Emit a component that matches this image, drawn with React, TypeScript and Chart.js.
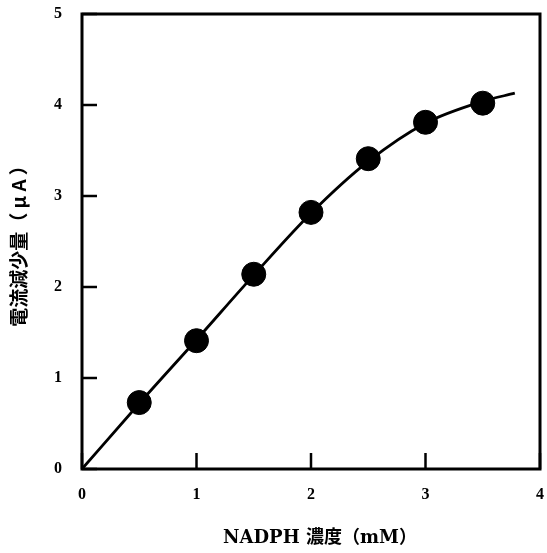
import React, { useEffect, useRef } from "react";
import { Chart, registerables } from "chart.js";

Chart.register(...registerables);

const pointX = [0.5, 1.0, 1.5, 2.0, 2.5, 3.0, 3.5];
const pointY = [0.73, 1.41, 2.14, 2.82, 3.41, 3.81, 4.02];
const curveX = [0, 0.5, 1.0, 1.5, 2.0, 2.5, 3.0, 3.5, 3.78];
const curveY = [0, 0.72, 1.42, 2.13, 2.81, 3.38, 3.80, 4.04, 4.13];
const xTicks = [0, 1, 2, 3, 4];
const yTicks = [0, 1, 2, 3, 4, 5];
const xTitle = "\u2002\u2002NADPH 濃度（mM）";
const yTitle = "電流減少量（ μ A ）";

const TICK_FONT = "'Liberation Serif', serif";
const TITLE_FONT = "'DejaVu Serif', 'Noto Sans CJK JP', serif";
const CJK_FONT = "'Noto Sans CJK JP', 'DejaVu Serif', serif";

const frame = {
  id: "frame",
  afterDatasetsDraw(chart: any) {
    const { ctx, chartArea, scales } = chart;
    const { left, right, top, bottom } = chartArea;
    ctx.save();
    ctx.strokeStyle = "#000";
    ctx.lineWidth = 3;
    ctx.strokeRect(left, top, right - left, bottom - top);
    ctx.lineWidth = 2.5;
    xTicks.forEach((v) => {
      const px = scales.x.getPixelForValue(v);
      ctx.beginPath();
      ctx.moveTo(px, bottom);
      ctx.lineTo(px, bottom - 16);
      ctx.stroke();
    });
    yTicks.forEach((v) => {
      const py = scales.y.getPixelForValue(v);
      ctx.beginPath();
      ctx.moveTo(left, py);
      ctx.lineTo(left + 15, py);
      ctx.stroke();
    });
    ctx.restore();
  },
};

export default function App() {
  const ref = useRef<HTMLCanvasElement>(null);
  useEffect(() => {
    document.body.style.margin = "0";
    const chart = new Chart(ref.current as HTMLCanvasElement, {
      type: "scatter",
      data: {
        datasets: [
          {
            data: curveX.map((x, i) => ({ x, y: curveY[i] })),
            showLine: true,
            borderColor: "#000",
            borderWidth: 2.8,
            pointRadius: 0,
            cubicInterpolationMode: "monotone",
            fill: false,
          } as any,
          {
            data: pointX.map((x, i) => ({ x, y: pointY[i] })),
            backgroundColor: "#000",
            borderColor: "#000",
            pointRadius: 12,
            pointHoverRadius: 12,
          },
        ],
      },
      options: {
        animation: false,
        responsive: false,
        events: [],
        layout: { autoPadding: false, padding: { top: 14, right: 7, left: 0, bottom: 0 } },
        plugins: { legend: { display: false }, tooltip: { enabled: false } },
        scales: {
          x: {
            type: "linear",
            min: 0,
            max: 4,
            afterFit: (s: any) => {
              s.height = 84;
              s.paddingLeft = 0;
              s.paddingRight = 0;
            },
            afterBuildTicks: (s: any) => { s.ticks = xTicks.map((v) => ({ value: v })); },
            grid: { display: false, drawTicks: false },
            border: { display: false },
            ticks: {
              padding: 16,
              color: "#000",
              font: { family: TICK_FONT, size: 16, weight: "bold" },
            },
            title: {
              display: true,
              text: xTitle,
              color: "#000",
              padding: { top: 0, bottom: 4 },
              font: { family: TITLE_FONT, size: 18, weight: "bold" },
            },
          },
          y: {
            type: "linear",
            min: 0,
            max: 5,
            afterFit: (s: any) => {
              s.width = 82;
              s.paddingTop = 0;
              s.paddingBottom = 0;
            },
            afterBuildTicks: (s: any) => { s.ticks = yTicks.map((v) => ({ value: v })); },
            grid: { display: false, drawTicks: false },
            border: { display: false },
            ticks: {
              padding: 20,
              color: "#000",
              font: { family: TICK_FONT, size: 16, weight: "bold" },
            },
            title: {
              display: true,
              text: yTitle,
              color: "#000",
              padding: { top: 7, bottom: 0 },
              font: { family: CJK_FONT, size: 19, weight: "bold" },
            },
          },
        },
      },
      plugins: [frame],
    });
    return () => chart.destroy();
  }, []);
  return <canvas ref={ref} width={547} height={553} style={{ display: "block" }} />;
}
